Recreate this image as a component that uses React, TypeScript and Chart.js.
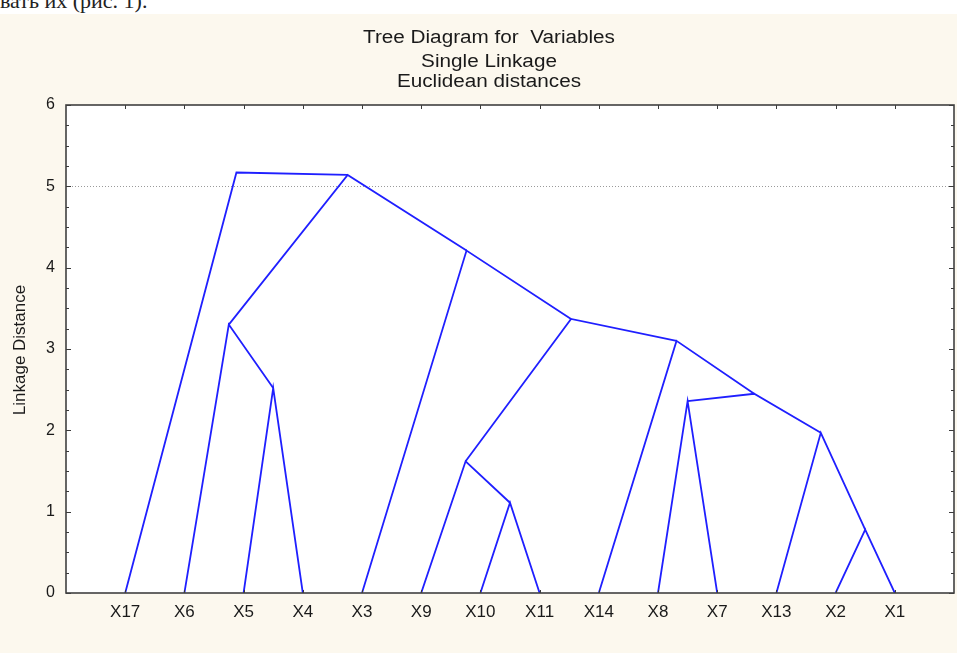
import React, { useEffect, useRef } from 'react';
import { Chart, registerables } from 'chart.js';

Chart.register(...registerables);

// ---- data ----
const leaves = ['X17', 'X6', 'X5', 'X4', 'X3', 'X9', 'X10', 'X11', 'X14', 'X8', 'X7', 'X13', 'X2', 'X1'];
// merge i creates cluster "N{i+1}" from mergeA[i] and mergeB[i] at mergeHeight[i]
const mergeA = ['X2', 'X10', 'X9', 'X13', 'X8', 'N5', 'X5', 'X14', 'X6', 'N3', 'X3', 'N9', 'X17'];
const mergeB = ['X1', 'X11', 'N2', 'N1', 'X7', 'N4', 'X4', 'N6', 'N7', 'N8', 'N10', 'N11', 'N12'];
const mergeHeight = [0.78, 1.11, 1.62, 1.97, 2.36, 2.45, 2.52, 3.1, 3.3, 3.37, 4.21, 5.14, 5.17];
const yMin = 0;
const yMax = 6;
const yStep = 1;
const yMinorStep = 0.25;
const refLineValue = 5;
const titleLines = ['Tree Diagram for  Variables', 'Single Linkage', 'Euclidean distances'];
const yAxisTitle = 'Linkage Distance';
const headerText = 'вать их (рис. 1).';

function buildSegments() {
  const pos: Record<string, { x: number; y: number }> = {};
  leaves.forEach((n, i) => {
    pos[n] = { x: i + 1, y: 0 };
  });
  return mergeA.map((a, i) => {
    const b = mergeB[i];
    const node = { x: (pos[a].x + pos[b].x) / 2, y: mergeHeight[i] };
    pos['N' + (i + 1)] = node;
    return [pos[a], node, pos[b]];
  });
}

const FONT = '"Liberation Sans", Arial, sans-serif';

const decorPlugin = {
  id: 'decor',
  beforeDraw(chart: any) {
    const { ctx, chartArea: a, width, height } = chart;
    ctx.save();
    ctx.fillStyle = '#fcf8ee';
    ctx.fillRect(0, 0, width, height);
    ctx.fillStyle = '#ffffff';
    ctx.fillRect(a.left, a.top, a.right - a.left, a.bottom - a.top);
    ctx.restore();
  },
  afterDatasetsDraw(chart: any) {
    const { ctx, chartArea: a } = chart;
    const xs = chart.scales.x;
    const ys = chart.scales.y;
    ctx.save();
    ctx.strokeStyle = '#3a3a3a';
    ctx.lineWidth = 1;
    // leaf tick marks top and bottom
    leaves.forEach((_, i) => {
      const px = Math.round(xs.getPixelForValue(i + 1)) + 0.5;
      ctx.beginPath();
      ctx.moveTo(px, a.top);
      ctx.lineTo(px, a.top + 4);
      ctx.moveTo(px, a.bottom);
      ctx.lineTo(px, a.bottom - 3);
      ctx.stroke();
    });
    // y minor/major ticks on both sides
    for (let v = yMin; v <= yMax + 1e-9; v += yMinorStep) {
      const py = Math.round(ys.getPixelForValue(v)) + 0.5;
      const major = Math.abs(v - Math.round(v)) < 1e-9;
      const len = major ? 5 : 3;
      ctx.beginPath();
      ctx.moveTo(a.left, py);
      ctx.lineTo(a.left + len, py);
      ctx.moveTo(a.right, py);
      ctx.lineTo(a.right - len, py);
      ctx.stroke();
    }
    // frame
    ctx.lineWidth = 1.6;
    ctx.strokeStyle = '#404040';
    ctx.strokeRect(a.left, a.top, a.right - a.left, a.bottom - a.top);

    // titles
    ctx.fillStyle = '#1a1a1a';
    ctx.textAlign = 'center';
    ctx.textBaseline = 'alphabetic';
    ctx.font = '18px ' + FONT;
    const baselines = [43, 67, 87];
    titleLines.forEach((t, i) => {
      ctx.save();
      ctx.translate(489, baselines[i]);
      ctx.scale(1.15, 1);
      ctx.fillText(t, 0, 0);
      ctx.restore();
    });
    // y-axis title
    ctx.save();
    ctx.translate(25, (a.top + a.bottom) / 2 + 1);
    ctx.rotate(-Math.PI / 2);
    ctx.font = '17px ' + FONT;
    ctx.fillText(yAxisTitle, 0, 0);
    ctx.restore();
    ctx.restore();
  },
};

export default function App() {
  const ref = useRef<HTMLCanvasElement>(null);

  useEffect(() => {
    if (!ref.current) return;
    const segments = buildSegments();
    const chart = new Chart(ref.current, {
      type: 'scatter',
      data: {
        datasets: segments.map((seg, i) => ({
          label: 'merge ' + (i + 1),
          data: seg,
          showLine: true,
          borderColor: '#1f1fff',
          borderWidth: 1.8,
          pointRadius: 0,
          pointHoverRadius: 0,
          tension: 0,
        })),
      },
      options: {
        responsive: false,
        animation: false,
        events: [],
        layout: { padding: { top: 105, left: 0, right: 3, bottom: 0 } },
        plugins: {
          legend: { display: false },
          tooltip: { enabled: false },
          title: { display: false },
        },
        scales: {
          x: {
            type: 'linear',
            min: 0,
            max: leaves.length + 1,
            afterFit: (s: any) => {
              s.height = 60;
              s.paddingLeft = 0;
              s.paddingRight = 0;
            },
            grid: { display: false, drawTicks: false },
            border: { display: false },
            ticks: {
              stepSize: 1,
              autoSkip: false,
              maxRotation: 0,
              padding: 9,
              color: '#1a1a1a',
              font: { family: FONT, size: 17 },
              callback: (v: any) => leaves[Number(v) - 1] ?? '',
            },
          },
          y: {
            type: 'linear',
            min: yMin,
            max: yMax,
            afterFit: (s: any) => {
              s.width = 66;
            },
            grid: {
              drawTicks: false,
              color: (c: any) => (c.tick && c.tick.value === refLineValue ? '#9a9a9a' : 'rgba(0,0,0,0)'),
              lineWidth: 1,
            },
            border: { display: false, dash: [1, 2] },
            ticks: {
              stepSize: yStep,
              padding: 11,
              color: '#1a1a1a',
              font: { family: FONT, size: 16 },
            },
          },
        },
      },
      plugins: [decorPlugin],
    });
    return () => chart.destroy();
  }, []);

  return (
    <div style={{ position: 'absolute', left: 0, top: 0, width: 957, height: 653, overflow: 'hidden', background: '#fcf8ee' }}>
      <canvas ref={ref} width={957} height={653} style={{ position: 'absolute', left: 0, top: 0, width: 957, height: 653 }} />
      <div
        style={{
          position: 'absolute',
          left: 0,
          top: 0,
          width: 957,
          height: 14,
          background: '#ffffff',
          overflow: 'hidden',
          zIndex: 1,
        }}
      >
        <span
          style={{
            position: 'absolute',
            left: 0,
            top: -10,
            fontFamily: '"Liberation Serif", "Times New Roman", serif',
            fontSize: 22,
            lineHeight: 1,
            color: '#222',
            whiteSpace: 'nowrap',
          }}
        >
          {headerText}
        </span>
      </div>
    </div>
  );
}
